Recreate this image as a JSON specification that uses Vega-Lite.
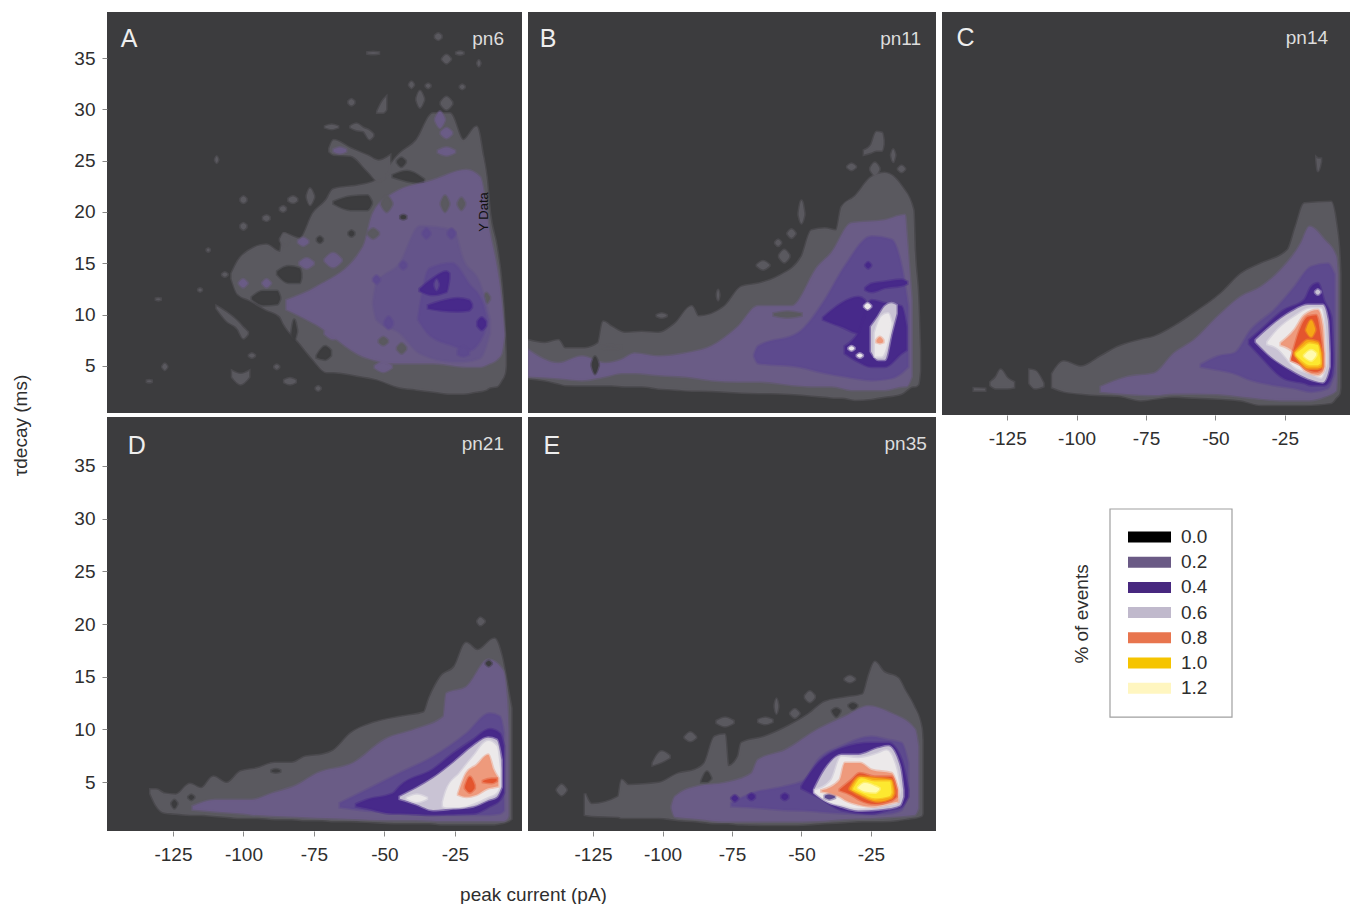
{"$schema":"https://vega.github.io/schema/vega-lite/v6.json","background":"white","padding":{"left":11,"top":12,"right":0,"bottom":0},"autosize":{"type":"pad"},"columns":3,"bounds":"flush","align":"each","spacing":{"column":6,"row":2},"resolve":{"scale":{"color":"independent","stroke":"independent"}},
"config":{"font":"Liberation Sans","view":{"fill":"#3c3c3e","stroke":null},"axis":{"grid":false,"domain":false,"tickColor":"#888888","tickSize":5,"labelFontSize":19,"labelColor":"#2e2e2e","labelFont":"Liberation Sans","titleFont":"Liberation Sans","titleFontSize":19,"titleFontWeight":"normal","titleColor":"#2e2e2e","labelOverlap":false}},
"datasets":{
"A":[
{"b":"m","l":1,"x":-104.2,"y":13.5,"y2":14},{"b":"m","l":1,"x":-102,"y":12,"y2":15.2},{"b":"m","l":1,"x":-97.7,"y":11.4,"y2":16.3},{"b":"m","l":1,"x":-92,"y":10.5,"y2":16.8},{"b":"m","l":1,"x":-87,"y":9.8,"y2":16.1},{"b":"m","l":1,"x":-85.9,"y":9.2,"y2":17.9},{"b":"m","l":1,"x":-80,"y":7.2,"y2":17.4},{"b":"m","l":1,"x":-75.2,"y":5.6,"y2":19.9},{"b":"m","l":1,"x":-70.5,"y":4.4,"y2":21.2},{"b":"m","l":1,"x":-68.2,"y":4.4,"y2":22.2},{"b":"m","l":1,"x":-58.7,"y":4,"y2":22.6},{"b":"m","l":1,"x":-52.8,"y":3.7,"y2":23.1},{"b":"m","l":1,"x":-44.5,"y":2.9,"y2":25.7},{"b":"m","l":1,"x":-38.6,"y":2.7,"y2":27},{"b":"m","l":1,"x":-32.7,"y":2.5,"y2":29.6},{"b":"m","l":1,"x":-26.8,"y":2.3,"y2":29.6},{"b":"m","l":1,"x":-22,"y":2.3,"y2":27},{"b":"m","l":1,"x":-17.3,"y":2.5,"y2":28.3},{"b":"m","l":1,"x":-15,"y":2.6,"y2":25.4},{"b":"m","l":1,"x":-13.8,"y":2.7,"y2":23.4},{"b":"m","l":1,"x":-12.6,"y":2.9,"y2":19.9},{"b":"m","l":1,"x":-10.2,"y":3,"y2":16.6},{"b":"m","l":1,"x":-8.5,"y":3.6,"y2":13},{"b":"m","l":1,"x":-7.3,"y":4.3,"y2":8.2},{"b":"m","l":1,"x":-7,"y":5,"y2":6},
{"b":"u","l":1,"x":-69.5,"y":25.9,"y2":26.2},{"b":"u","l":1,"x":-68,"y":25.6,"y2":27},{"b":"u","l":1,"x":-62,"y":25.5,"y2":26.2},{"b":"u","l":1,"x":-56,"y":24,"y2":25.5},{"b":"u","l":1,"x":-52,"y":23,"y2":25},{"b":"u","l":1,"x":-48,"y":24,"y2":25.5},
{"b":"s1","l":1,"x":-77.5,"y":21.4,"y2":21.6},{"b":"s1","l":1,"x":-76.4,"y":20.7,"y2":22.3},{"b":"s1","l":1,"x":-75,"y":21.4,"y2":21.6},
{"b":"s2","l":1,"x":-101,"y":21.1,"y2":21.3},{"b":"s2","l":1,"x":-100,"y":20.9,"y2":21.5},{"b":"s2","l":1,"x":-99,"y":21.1,"y2":21.3},
{"b":"s3","l":1,"x":-87,"y":17.2,"y2":17.4},{"b":"s3","l":1,"x":-85.3,"y":16.7,"y2":17.9},{"b":"s3","l":1,"x":-83.8,"y":17.2,"y2":17.4},
{"b":"s4","l":1,"x":-84,"y":21.1,"y2":21.3},{"b":"s4","l":1,"x":-82.4,"y":20.9,"y2":21.5},{"b":"s4","l":1,"x":-81,"y":21.1,"y2":21.3},
{"b":"s5","l":1,"x":-87,"y":20.2,"y2":20.4},{"b":"s5","l":1,"x":-85.9,"y":20.05,"y2":20.55},{"b":"s5","l":1,"x":-85,"y":20.2,"y2":20.4},
{"b":"s6","l":1,"x":-93,"y":19.3,"y2":19.5},{"b":"s6","l":1,"x":-91.8,"y":19.15,"y2":19.65},{"b":"s6","l":1,"x":-90.8,"y":19.3,"y2":19.5},
{"b":"s7","l":1,"x":-101,"y":18.5,"y2":18.7},{"b":"s7","l":1,"x":-100,"y":18.3,"y2":18.9},{"b":"s7","l":1,"x":-99,"y":18.5,"y2":18.7},
{"b":"s8","l":1,"x":-107.5,"y":13.85,"y2":13.95},{"b":"s8","l":1,"x":-106.6,"y":13.7,"y2":14.1},{"b":"s8","l":1,"x":-105.7,"y":13.85,"y2":13.95},
{"b":"s9","l":1,"x":-116,"y":12.35,"y2":12.45},{"b":"s9","l":1,"x":-115.4,"y":12.25,"y2":12.55},{"b":"s9","l":1,"x":-114.8,"y":12.35,"y2":12.45},
{"b":"s10","l":1,"x":-131,"y":11.45,"y2":11.55},{"b":"s10","l":1,"x":-130.2,"y":11.4,"y2":11.6},{"b":"s10","l":1,"x":-129.4,"y":11.45,"y2":11.55},
{"b":"s11","l":1,"x":-113,"y":16.25,"y2":16.35},{"b":"s11","l":1,"x":-112.5,"y":16.15,"y2":16.45},{"b":"s11","l":1,"x":-112,"y":16.25,"y2":16.35},
{"b":"s12","l":1,"x":-110,"y":25.05,"y2":25.15},{"b":"s12","l":1,"x":-109.5,"y":24.8,"y2":25.4},{"b":"s12","l":1,"x":-109,"y":25.05,"y2":25.15},
{"b":"s13","l":1,"x":-109.5,"y":10.6,"y2":10.8},{"b":"s13","l":1,"x":-106,"y":9.4,"y2":10.2},{"b":"s13","l":1,"x":-102,"y":8.6,"y2":9.3},{"b":"s13","l":1,"x":-100,"y":7.7,"y2":8.7},{"b":"s13","l":1,"x":-98.5,"y":8.1,"y2":8.3},
{"b":"s14","l":1,"x":-104,"y":3.9,"y2":4.5},{"b":"s14","l":1,"x":-101,"y":3.2,"y2":4.2},{"b":"s14","l":1,"x":-98,"y":3.9,"y2":4.5},
{"b":"s15","l":1,"x":-85.5,"y":3.4,"y2":3.6},{"b":"s15","l":1,"x":-83.5,"y":3.2,"y2":3.8},{"b":"s15","l":1,"x":-81.5,"y":3.4,"y2":3.6},
{"b":"s16","l":1,"x":-74.3,"y":2.75,"y2":2.85},{"b":"s16","l":1,"x":-73.5,"y":2.6,"y2":3},{"b":"s16","l":1,"x":-72.7,"y":2.75,"y2":2.85},
{"b":"s17","l":1,"x":-98,"y":5.95,"y2":6.05},{"b":"s17","l":1,"x":-97,"y":5.8,"y2":6.2},{"b":"s17","l":1,"x":-96,"y":5.95,"y2":6.05},
{"b":"s18","l":1,"x":-89,"y":4.85,"y2":4.95},{"b":"s18","l":1,"x":-88.2,"y":4.7,"y2":5.1},{"b":"s18","l":1,"x":-87.4,"y":4.85,"y2":4.95},
{"b":"s19","l":1,"x":-128.7,"y":4.85,"y2":4.95},{"b":"s19","l":1,"x":-127.9,"y":4.6,"y2":5.2},{"b":"s19","l":1,"x":-127.1,"y":4.85,"y2":4.95},
{"b":"s20","l":1,"x":-134.2,"y":3.45,"y2":3.55},{"b":"s20","l":1,"x":-133.4,"y":3.4,"y2":3.6},{"b":"s20","l":1,"x":-132.6,"y":3.45,"y2":3.55},
{"b":"t1","l":1,"x":-38.6,"y":30.9,"y2":31.1},{"b":"t1","l":1,"x":-37.4,"y":30.2,"y2":31.8},{"b":"t1","l":1,"x":-36,"y":30.9,"y2":31.1},
{"b":"t2","l":1,"x":-30,"y":30.5,"y2":30.7},{"b":"t2","l":1,"x":-28,"y":30,"y2":31.2},{"b":"t2","l":1,"x":-26,"y":30.5,"y2":30.7},
{"b":"t3","l":1,"x":-52.5,"y":29.7,"y2":29.8},{"b":"t3","l":1,"x":-50.4,"y":29.7,"y2":30.9},{"b":"t3","l":1,"x":-49.4,"y":30,"y2":31.2},
{"b":"t4","l":1,"x":-62.7,"y":30.6,"y2":30.8},{"b":"t4","l":1,"x":-61.7,"y":30.4,"y2":31},{"b":"t4","l":1,"x":-60.7,"y":30.6,"y2":30.8},
{"b":"t5","l":1,"x":-32,"y":37,"y2":37.2},{"b":"t5","l":1,"x":-30.9,"y":36.8,"y2":37.4},{"b":"t5","l":1,"x":-29.8,"y":37,"y2":37.2},
{"b":"t6","l":1,"x":-56,"y":35.45,"y2":35.55},{"b":"t6","l":1,"x":-54,"y":35.4,"y2":35.6},{"b":"t6","l":1,"x":-52,"y":35.45,"y2":35.55},
{"b":"t7","l":1,"x":-29.5,"y":34.85,"y2":34.95},{"b":"t7","l":1,"x":-28,"y":34.5,"y2":35.3},{"b":"t7","l":1,"x":-26.5,"y":34.85,"y2":34.95},
{"b":"t8","l":1,"x":-17,"y":34.45,"y2":34.55},{"b":"t8","l":1,"x":-16.5,"y":34.2,"y2":34.8},{"b":"t8","l":1,"x":-16,"y":34.45,"y2":34.55},
{"b":"t9","l":1,"x":-24.5,"y":35.45,"y2":35.55},{"b":"t9","l":1,"x":-23.2,"y":35.35,"y2":35.65},{"b":"t9","l":1,"x":-22,"y":35.45,"y2":35.55},
{"b":"t10","l":1,"x":-41.2,"y":32.35,"y2":32.45},{"b":"t10","l":1,"x":-40.4,"y":32.1,"y2":32.7},{"b":"t10","l":1,"x":-39.6,"y":32.35,"y2":32.45},
{"b":"t11","l":1,"x":-35.3,"y":32.25,"y2":32.35},{"b":"t11","l":1,"x":-34.5,"y":32.1,"y2":32.5},{"b":"t11","l":1,"x":-33.7,"y":32.25,"y2":32.35},
{"b":"t12","l":1,"x":-23.2,"y":32.15,"y2":32.25},{"b":"t12","l":1,"x":-22.4,"y":32,"y2":32.4},{"b":"t12","l":1,"x":-21.6,"y":32.15,"y2":32.25},
{"b":"t13","l":1,"x":-71,"y":28.25,"y2":28.35},{"b":"t13","l":1,"x":-68.7,"y":28.1,"y2":28.5},{"b":"t13","l":1,"x":-66.5,"y":28.25,"y2":28.35},
{"b":"t14","l":1,"x":-62,"y":28.25,"y2":28.35},{"b":"t14","l":1,"x":-59.9,"y":28,"y2":28.6},{"b":"t14","l":1,"x":-57.5,"y":27.9,"y2":28.2},{"b":"t14","l":1,"x":-55.2,"y":27.1,"y2":27.9},{"b":"t14","l":1,"x":-54,"y":27.4,"y2":27.6},
{"b":"h1","l":0,"x":-97,"y":11.5,"y2":11.7},{"b":"h1","l":0,"x":-93,"y":10.9,"y2":12.3},{"b":"h1","l":0,"x":-88,"y":11,"y2":12.3},{"b":"h1","l":0,"x":-87,"y":11.5,"y2":11.7},
{"b":"h2","l":0,"x":-88,"y":13.9,"y2":14.2},{"b":"h2","l":0,"x":-84,"y":13.1,"y2":14.7},{"b":"h2","l":0,"x":-80,"y":13.1,"y2":14.5},{"b":"h2","l":0,"x":-79.5,"y":13.6,"y2":14},
{"b":"h3","l":0,"x":-68,"y":20.8,"y2":21},{"b":"h3","l":0,"x":-62,"y":20.2,"y2":21.5},{"b":"h3","l":0,"x":-56,"y":20.2,"y2":21.6},{"b":"h3","l":0,"x":-54.5,"y":20.8,"y2":21},
{"b":"h4","l":0,"x":-74,"y":5.8,"y2":6},{"b":"h4","l":0,"x":-71,"y":5.6,"y2":6.9},{"b":"h4","l":0,"x":-69,"y":6,"y2":6.5},
{"b":"h5","l":0,"x":-83,"y":8,"y2":8.2},{"b":"h5","l":0,"x":-82,"y":7.5,"y2":9.5},{"b":"h5","l":0,"x":-81,"y":8.3,"y2":8.5},
{"b":"h6","l":0,"x":-47,"y":23.4,"y2":23.6},{"b":"h6","l":0,"x":-42,"y":23,"y2":24},{"b":"h6","l":0,"x":-36,"y":22.8,"y2":23.2},
{"b":"h7","l":0,"x":-45.5,"y":24.8,"y2":25},{"b":"h7","l":0,"x":-44,"y":24.4,"y2":25.3},{"b":"h7","l":0,"x":-42.5,"y":24.8,"y2":25},
{"b":"h8","l":0,"x":-62.7,"y":17.8,"y2":18},{"b":"h8","l":0,"x":-61.7,"y":17.6,"y2":18.2},{"b":"h8","l":0,"x":-60.7,"y":17.8,"y2":18},
{"b":"h9","l":0,"x":-73.9,"y":17.2,"y2":17.4},{"b":"h9","l":0,"x":-72.9,"y":17,"y2":17.6},{"b":"h9","l":0,"x":-71.9,"y":17.2,"y2":17.4},
{"b":"n1","l":2,"x":-101.6,"y":13,"y2":13.1},{"b":"n1","l":2,"x":-100.1,"y":12.65,"y2":13.45},{"b":"n1","l":2,"x":-98.6,"y":13,"y2":13.1},
{"b":"n2","l":2,"x":-93.3,"y":13,"y2":13.1},{"b":"n2","l":2,"x":-91.8,"y":12.65,"y2":13.45},{"b":"n2","l":2,"x":-90.3,"y":13,"y2":13.1},
{"b":"n3","l":2,"x":-80.6,"y":17,"y2":17.2},{"b":"n3","l":2,"x":-78.8,"y":16.7,"y2":17.5},{"b":"n3","l":2,"x":-77,"y":17,"y2":17.2},
{"b":"n4","l":2,"x":-68,"y":25.9,"y2":26.1},{"b":"n4","l":2,"x":-65.8,"y":25.7,"y2":26.3},{"b":"n4","l":2,"x":-63.6,"y":25.9,"y2":26.1},
{"b":"n5","l":2,"x":-31,"y":25.8,"y2":26},{"b":"n5","l":2,"x":-28,"y":25.5,"y2":26.3},{"b":"n5","l":2,"x":-25,"y":25.8,"y2":26},
{"b":"n6","l":2,"x":-32,"y":28.9,"y2":29.1},{"b":"n6","l":2,"x":-30.3,"y":28.2,"y2":29.8},{"b":"n6","l":2,"x":-28.6,"y":28.9,"y2":29.1},
{"b":"n7","l":2,"x":-30,"y":27.6,"y2":27.8},{"b":"n7","l":2,"x":-28,"y":27.2,"y2":28.2},{"b":"n7","l":2,"x":-26,"y":27.6,"y2":27.8},
{"b":"n8","l":2,"x":-71.2,"y":8.1,"y2":8.3},{"b":"n8","l":2,"x":-68.2,"y":7.6,"y2":8.8},{"b":"n8","l":2,"x":-65.2,"y":8.1,"y2":8.3},
{"b":"n9","l":2,"x":-53.4,"y":4.8,"y2":5},{"b":"n9","l":2,"x":-50.4,"y":4.4,"y2":5.4},{"b":"n9","l":2,"x":-47.4,"y":4.8,"y2":5},
{"b":"n10","l":2,"x":-71.2,"y":15.2,"y2":15.4},{"b":"n10","l":2,"x":-68.2,"y":14.6,"y2":16},{"b":"n10","l":2,"x":-65.2,"y":15.2,"y2":15.4},
{"b":"n11","l":2,"x":-80.1,"y":14.9,"y2":15.1},{"b":"n11","l":2,"x":-77.6,"y":14.5,"y2":15.5},{"b":"n11","l":2,"x":-75.1,"y":14.9,"y2":15.1},
{"b":"p","l":2,"x":-84.7,"y":10.5,"y2":11.4},{"b":"p","l":2,"x":-74,"y":9,"y2":12.7},{"b":"p","l":2,"x":-57.5,"y":5.9,"y2":16.6},{"b":"p","l":2,"x":-54,"y":5.6,"y2":19.9},{"b":"p","l":2,"x":-46.9,"y":5.25,"y2":21.8},{"b":"p","l":2,"x":-32.7,"y":5.25,"y2":23.1},{"b":"p","l":2,"x":-20.9,"y":4.9,"y2":24.1},{"b":"p","l":2,"x":-16.1,"y":4.9,"y2":23.4},{"b":"p","l":2,"x":-12.6,"y":5.25,"y2":17.9},{"b":"p","l":2,"x":-10.2,"y":5.6,"y2":14.7},{"b":"p","l":2,"x":-8.5,"y":6.2,"y2":11.4},{"b":"p","l":2,"x":-7.5,"y":7.9,"y2":8.2},
{"b":"k1","l":1,"x":-51.2,"y":20.7,"y2":20.9},{"b":"k1","l":1,"x":-49.2,"y":20,"y2":21.6},{"b":"k1","l":1,"x":-47.2,"y":20.7,"y2":20.9},
{"b":"k2","l":1,"x":-30,"y":20.7,"y2":20.9},{"b":"k2","l":1,"x":-28.5,"y":20,"y2":21.6},{"b":"k2","l":1,"x":-27,"y":20.7,"y2":20.9},
{"b":"k3","l":1,"x":-24,"y":20.7,"y2":20.9},{"b":"k3","l":1,"x":-22.7,"y":20.2,"y2":21.4},{"b":"k3","l":1,"x":-21.4,"y":20.7,"y2":20.9},
{"b":"k4","l":1,"x":-56,"y":17.8,"y2":18},{"b":"k4","l":1,"x":-54,"y":17.4,"y2":18.4},{"b":"k4","l":1,"x":-52,"y":17.8,"y2":18},
{"b":"k5","l":1,"x":-39,"y":9.1,"y2":9.3},{"b":"k5","l":1,"x":-37.4,"y":8.8,"y2":9.6},{"b":"k5","l":1,"x":-35.8,"y":9.1,"y2":9.3},
{"b":"k6","l":1,"x":-52,"y":7.3,"y2":7.5},{"b":"k6","l":1,"x":-50.4,"y":7,"y2":7.8},{"b":"k6","l":1,"x":-48.8,"y":7.3,"y2":7.5},
{"b":"k7","l":1,"x":-15,"y":11.5,"y2":11.7},{"b":"k7","l":1,"x":-13.8,"y":11.1,"y2":12.1},{"b":"k7","l":1,"x":-12.6,"y":11.5,"y2":11.7},
{"b":"k8","l":1,"x":-45.5,"y":6.6,"y2":6.8},{"b":"k8","l":1,"x":-43.9,"y":6.2,"y2":7.2},{"b":"k8","l":1,"x":-42.3,"y":6.6,"y2":6.8},
{"b":"k9","l":0,"x":-44.3,"y":19.4,"y2":19.6},{"b":"k9","l":0,"x":-43.3,"y":19.3,"y2":19.7},{"b":"k9","l":0,"x":-42.3,"y":19.4,"y2":19.6},
{"b":"q","l":12,"x":-54,"y":11,"y2":11.2},{"b":"q","l":12,"x":-52.8,"y":9.5,"y2":13},{"b":"q","l":12,"x":-44.5,"y":8.2,"y2":15},{"b":"q","l":12,"x":-37.4,"y":6.2,"y2":18.6},{"b":"q","l":12,"x":-25.6,"y":5.4,"y2":18.2},{"b":"q","l":12,"x":-22,"y":5.4,"y2":15.3},{"b":"q","l":12,"x":-16.1,"y":5.75,"y2":13},{"b":"q","l":12,"x":-12.6,"y":8.2,"y2":9.5},
{"b":"v1","l":3,"x":-38,"y":9.5,"y2":9.7},{"b":"v1","l":3,"x":-34,"y":8,"y2":14.5},{"b":"v1","l":3,"x":-26,"y":7,"y2":15},{"b":"v1","l":3,"x":-20,"y":6.5,"y2":13},{"b":"v1","l":3,"x":-15,"y":8,"y2":11},{"b":"v1","l":3,"x":-13.5,"y":9.2,"y2":9.4},
{"b":"d1","l":4,"x":-37.5,"y":12.3,"y2":12.5},{"b":"d1","l":4,"x":-33,"y":11.9,"y2":13.5},{"b":"d1","l":4,"x":-28,"y":12.2,"y2":14.2},{"b":"d1","l":4,"x":-27,"y":13.5,"y2":14},
{"b":"d2","l":4,"x":-34.5,"y":10.6,"y2":10.9},{"b":"d2","l":4,"x":-30,"y":10.4,"y2":11.3},{"b":"d2","l":4,"x":-24,"y":10.3,"y2":11.6},{"b":"d2","l":4,"x":-20,"y":10.4,"y2":11.4},{"b":"d2","l":4,"x":-19,"y":10.7,"y2":11},
{"b":"d3","l":4,"x":-17,"y":8.9,"y2":9.3},{"b":"d3","l":4,"x":-15.5,"y":8.5,"y2":9.7},{"b":"d3","l":4,"x":-14,"y":8.9,"y2":9.3},
{"b":"d4","l":3,"x":-50,"y":9,"y2":9.3},{"b":"d4","l":3,"x":-48.5,"y":8.6,"y2":9.8},{"b":"d4","l":3,"x":-47,"y":9,"y2":9.3},
{"b":"d5","l":3,"x":-24,"y":6.1,"y2":6.5},{"b":"d5","l":3,"x":-22,"y":5.9,"y2":6.9},{"b":"d5","l":3,"x":-20,"y":6.1,"y2":6.5},
{"b":"d6","l":3,"x":-36.5,"y":17.8,"y2":18},{"b":"d6","l":3,"x":-35.1,"y":17.4,"y2":18.4},{"b":"d6","l":3,"x":-33.7,"y":17.8,"y2":18},
{"b":"d7","l":3,"x":-27.6,"y":17.8,"y2":18},{"b":"d7","l":3,"x":-26.2,"y":17.4,"y2":18.4},{"b":"d7","l":3,"x":-24.8,"y":17.8,"y2":18},
{"b":"d8","l":3,"x":-44.5,"y":14.7,"y2":14.9},{"b":"d8","l":3,"x":-43.3,"y":14.4,"y2":15.2},{"b":"d8","l":3,"x":-42.1,"y":14.7,"y2":14.9},
{"b":"d9","l":3,"x":-54,"y":13.3,"y2":13.5},{"b":"d9","l":3,"x":-52.8,"y":13,"y2":13.8},{"b":"d9","l":3,"x":-51.6,"y":13.3,"y2":13.5},
{"b":"e1","l":3,"x":-32.2,"y":12.8,"y2":13},{"b":"e1","l":3,"x":-31.5,"y":12.4,"y2":13.4},{"b":"e1","l":3,"x":-30.8,"y":12.8,"y2":13}
],
"B":[
{"b":"m","l":1,"x":-148.4,"y":3.8,"y2":7.5},{"b":"m","l":1,"x":-142.3,"y":3.6,"y2":7.2},{"b":"m","l":1,"x":-137.5,"y":3.3,"y2":7.5},{"b":"m","l":1,"x":-135.1,"y":3.14,"y2":6.7},{"b":"m","l":1,"x":-128,"y":3.1,"y2":6.7},{"b":"m","l":1,"x":-123.1,"y":3.1,"y2":7.2},{"b":"m","l":1,"x":-121.3,"y":3.1,"y2":9.3},{"b":"m","l":1,"x":-118.3,"y":3.1,"y2":8.8},{"b":"m","l":1,"x":-113.5,"y":3,"y2":8.2},{"b":"m","l":1,"x":-107.5,"y":3,"y2":8.3},{"b":"m","l":1,"x":-101.5,"y":2.8,"y2":8.2},{"b":"m","l":1,"x":-95.5,"y":2.7,"y2":9.1},{"b":"m","l":1,"x":-89.5,"y":2.6,"y2":10.8},{"b":"m","l":1,"x":-87.1,"y":2.6,"y2":9.8},{"b":"m","l":1,"x":-77.6,"y":2.5,"y2":10.8},{"b":"m","l":1,"x":-71.6,"y":2.4,"y2":12.7},{"b":"m","l":1,"x":-65.6,"y":2.35,"y2":13},{"b":"m","l":1,"x":-58.4,"y":2.33,"y2":13.7},{"b":"m","l":1,"x":-50,"y":2.2,"y2":15.6},{"b":"m","l":1,"x":-46.4,"y":2.1,"y2":18.2},{"b":"m","l":1,"x":-41.6,"y":2,"y2":18.4},{"b":"m","l":1,"x":-37.5,"y":1.9,"y2":18.2},{"b":"m","l":1,"x":-35.5,"y":1.9,"y2":20.5},{"b":"m","l":1,"x":-30.8,"y":1.7,"y2":21.5},{"b":"m","l":1,"x":-24.8,"y":1.8,"y2":23.4},{"b":"m","l":1,"x":-20,"y":2,"y2":23.8},{"b":"m","l":1,"x":-14,"y":2.3,"y2":22.5},{"b":"m","l":1,"x":-9.8,"y":3,"y2":20.2},{"b":"m","l":1,"x":-9.2,"y":3,"y2":16},{"b":"m","l":1,"x":-8,"y":3.2,"y2":11.4},{"b":"m","l":1,"x":-7.4,"y":4.5,"y2":6.5},
{"b":"s1","l":1,"x":-27.5,"y":25.6,"y2":26},{"b":"s1","l":1,"x":-25,"y":25.8,"y2":26.5},{"b":"s1","l":1,"x":-23,"y":26,"y2":27.8},{"b":"s1","l":1,"x":-21,"y":26,"y2":27.7},{"b":"s1","l":1,"x":-20.5,"y":26.6,"y2":27},
{"b":"s2","l":1,"x":-17.7,"y":25.5,"y2":25.6},{"b":"s2","l":1,"x":-17,"y":24.9,"y2":26.1},{"b":"s2","l":1,"x":-16.3,"y":25.5,"y2":25.6},
{"b":"s3","l":1,"x":-51,"y":19.7,"y2":19.9},{"b":"s3","l":1,"x":-50,"y":18.9,"y2":21.1},{"b":"s3","l":1,"x":-49,"y":19.7,"y2":19.9},
{"b":"s4","l":1,"x":-55,"y":17.85,"y2":17.95},{"b":"s4","l":1,"x":-53.6,"y":17.5,"y2":18.3},{"b":"s4","l":1,"x":-52.2,"y":17.85,"y2":17.95},
{"b":"s5","l":1,"x":-58,"y":15.6,"y2":15.8},{"b":"s5","l":1,"x":-56.2,"y":15.1,"y2":16.3},{"b":"s5","l":1,"x":-54.4,"y":15.6,"y2":15.8},
{"b":"s6","l":1,"x":-66,"y":14.75,"y2":14.85},{"b":"s6","l":1,"x":-63.8,"y":14.4,"y2":15.2},{"b":"s6","l":1,"x":-61.6,"y":14.75,"y2":14.85},
{"b":"s7","l":1,"x":-59.4,"y":16.95,"y2":17.05},{"b":"s7","l":1,"x":-58.4,"y":16.7,"y2":17.3},{"b":"s7","l":1,"x":-57.4,"y":16.95,"y2":17.05},
{"b":"s8","l":1,"x":-33.5,"y":24.35,"y2":24.45},{"b":"s8","l":1,"x":-32,"y":24.1,"y2":24.7},{"b":"s8","l":1,"x":-30.5,"y":24.35,"y2":24.45},
{"b":"s9","l":1,"x":-15.2,"y":24.15,"y2":24.25},{"b":"s9","l":1,"x":-14,"y":23.9,"y2":24.5},{"b":"s9","l":1,"x":-12.8,"y":24.15,"y2":24.25},
{"b":"s10","l":1,"x":-25.2,"y":24.1,"y2":24.3},{"b":"s10","l":1,"x":-23.6,"y":23.6,"y2":24.8},{"b":"s10","l":1,"x":-22,"y":24.1,"y2":24.3},
{"b":"s11","l":1,"x":-80.4,"y":11.8,"y2":12},{"b":"s11","l":1,"x":-80,"y":11.4,"y2":12.4},{"b":"s11","l":1,"x":-79.6,"y":11.8,"y2":12},
{"b":"s12","l":1,"x":-102,"y":9.85,"y2":9.95},{"b":"s12","l":1,"x":-100.3,"y":9.7,"y2":10.1},{"b":"s12","l":1,"x":-98.6,"y":9.85,"y2":9.95},
{"b":"p","l":2,"x":-148.3,"y":3.95,"y2":6.55},{"b":"p","l":2,"x":-137.5,"y":3.8,"y2":5.25},{"b":"p","l":2,"x":-129,"y":3.6,"y2":5.9},{"b":"p","l":2,"x":-120.7,"y":3.95,"y2":5.25},{"b":"p","l":2,"x":-114.7,"y":4.3,"y2":5.6},{"b":"p","l":2,"x":-110,"y":4.3,"y2":6.2},{"b":"p","l":2,"x":-101.5,"y":4.1,"y2":5.9},{"b":"p","l":2,"x":-92,"y":3.95,"y2":6.2},{"b":"p","l":2,"x":-82.4,"y":3.6,"y2":6.9},{"b":"p","l":2,"x":-72.8,"y":3.47,"y2":8.8},{"b":"p","l":2,"x":-65.6,"y":3.47,"y2":10.8},{"b":"p","l":2,"x":-53.6,"y":3.14,"y2":10.8},{"b":"p","l":2,"x":-44,"y":3,"y2":14.7},{"b":"p","l":2,"x":-39.2,"y":3,"y2":16},{"b":"p","l":2,"x":-32,"y":2.65,"y2":18.9},{"b":"p","l":2,"x":-20,"y":2.65,"y2":19.2},{"b":"p","l":2,"x":-12.8,"y":3,"y2":19.7},{"b":"p","l":2,"x":-12.2,"y":3,"y2":17.9},{"b":"p","l":2,"x":-10.4,"y":3.95,"y2":11.4},
{"b":"h1","l":0,"x":-125.5,"y":5,"y2":5.2},{"b":"h1","l":0,"x":-124.3,"y":4.2,"y2":5.9},{"b":"h1","l":0,"x":-123,"y":5,"y2":5.2},
{"b":"h2","l":1,"x":-122,"y":6.7,"y2":6.9},{"b":"h2","l":1,"x":-119,"y":6.6,"y2":7},{"b":"h2","l":1,"x":-115,"y":6.7,"y2":6.9},
{"b":"h3","l":1,"x":-60,"y":9.9,"y2":10.1},{"b":"h3","l":1,"x":-55,"y":9.7,"y2":10.3},{"b":"h3","l":1,"x":-50,"y":9.9,"y2":10.1},
{"b":"q","l":3,"x":-67,"y":5.9,"y2":6.1},{"b":"q","l":3,"x":-65.6,"y":5.25,"y2":6.9},{"b":"q","l":3,"x":-51.2,"y":4.9,"y2":8.2},{"b":"q","l":3,"x":-41.6,"y":4.3,"y2":11.4},{"b":"q","l":3,"x":-34.4,"y":3.95,"y2":14.7},{"b":"q","l":3,"x":-24.8,"y":3.6,"y2":17.6},{"b":"q","l":3,"x":-17.6,"y":3.8,"y2":17.3},{"b":"q","l":3,"x":-14,"y":4.3,"y2":14.7},{"b":"q","l":3,"x":-11.6,"y":4.9,"y2":10.8},
{"b":"d1","l":4,"x":-42.2,"y":9.5,"y2":9.7},{"b":"d1","l":4,"x":-35.6,"y":8.8,"y2":11.1},{"b":"d1","l":4,"x":-29.6,"y":8.2,"y2":11.7},{"b":"d1","l":4,"x":-27.2,"y":8.2,"y2":11.4},{"b":"d1","l":4,"x":-26,"y":9.5,"y2":10},
{"b":"d2","l":4,"x":-34.4,"y":6.2,"y2":6.9},{"b":"d2","l":4,"x":-29.6,"y":5.4,"y2":8.2},{"b":"d2","l":4,"x":-24.8,"y":4.9,"y2":11.4},{"b":"d2","l":4,"x":-20,"y":4.9,"y2":11.1},{"b":"d2","l":4,"x":-14,"y":6.2,"y2":10.8},{"b":"d2","l":4,"x":-12.2,"y":6.55,"y2":8.8},
{"b":"d3","l":4,"x":-27,"y":12.4,"y2":12.6},{"b":"d3","l":4,"x":-24.8,"y":12.2,"y2":13},{"b":"d3","l":4,"x":-20,"y":12.6,"y2":13.2},{"b":"d3","l":4,"x":-14,"y":12.8,"y2":13.4},{"b":"d3","l":4,"x":-12,"y":13,"y2":13.2},
{"b":"d4","l":4,"x":-27,"y":14.75,"y2":14.85},{"b":"d4","l":4,"x":-26,"y":14.5,"y2":15.1},{"b":"d4","l":4,"x":-25,"y":14.75,"y2":14.85},
{"b":"w1","l":5,"x":-25,"y":6.4,"y2":8.8},{"b":"w1","l":5,"x":-22.4,"y":5.6,"y2":9.8},{"b":"w1","l":5,"x":-20,"y":5.6,"y2":10.8},{"b":"w1","l":5,"x":-17.6,"y":8.2,"y2":11.1},{"b":"w1","l":5,"x":-15.8,"y":10.1,"y2":10.9},
{"b":"w2","l":6,"x":-23.6,"y":5.9,"y2":8.2},{"b":"w2","l":6,"x":-21.2,"y":5.9,"y2":9.8},{"b":"w2","l":6,"x":-18.8,"y":7.5,"y2":10.1},{"b":"w2","l":6,"x":-17.6,"y":9,"y2":9.2},
{"b":"w3","l":7,"x":-23,"y":7.3,"y2":7.5},{"b":"w3","l":7,"x":-21.8,"y":7.2,"y2":7.8},{"b":"w3","l":7,"x":-20.6,"y":7.3,"y2":7.5},
{"b":"w4","l":6,"x":-27.4,"y":10.75,"y2":10.85},{"b":"w4","l":6,"x":-26.2,"y":10.5,"y2":11.1},{"b":"w4","l":6,"x":-25,"y":10.75,"y2":10.85},
{"b":"w5","l":6,"x":-33,"y":6.65,"y2":6.75},{"b":"w5","l":6,"x":-32,"y":6.5,"y2":6.9},{"b":"w5","l":6,"x":-31,"y":6.65,"y2":6.75},
{"b":"w6","l":6,"x":-30,"y":5.95,"y2":6.05},{"b":"w6","l":6,"x":-29,"y":5.8,"y2":6.2},{"b":"w6","l":6,"x":-28,"y":5.95,"y2":6.05}
],
"C":[
{"b":"m","l":1,"x":-108.8,"y":3,"y2":4.3},{"b":"m","l":1,"x":-104.6,"y":2.6,"y2":5.5},{"b":"m","l":1,"x":-98.6,"y":2.4,"y2":5},{"b":"m","l":1,"x":-91.3,"y":2.25,"y2":6},{"b":"m","l":1,"x":-85.3,"y":2.2,"y2":6.9},{"b":"m","l":1,"x":-76.9,"y":1.75,"y2":7.6},{"b":"m","l":1,"x":-72.1,"y":1.9,"y2":7.9},{"b":"m","l":1,"x":-64.9,"y":2.1,"y2":8.9},{"b":"m","l":1,"x":-57.6,"y":2,"y2":10.2},{"b":"m","l":1,"x":-48,"y":1.9,"y2":12.1},{"b":"m","l":1,"x":-40.8,"y":1.75,"y2":14},{"b":"m","l":1,"x":-33.6,"y":1.3,"y2":15},{"b":"m","l":1,"x":-24,"y":1.3,"y2":16.3},{"b":"m","l":1,"x":-21,"y":1.3,"y2":18.6},{"b":"m","l":1,"x":-17.9,"y":1.3,"y2":20.85},{"b":"m","l":1,"x":-8.3,"y":1.5,"y2":21},{"b":"m","l":1,"x":-6.5,"y":2,"y2":18.9},{"b":"m","l":1,"x":-5.3,"y":2.4,"y2":15.7},{"b":"m","l":1,"x":-5,"y":3,"y2":14},
{"b":"s1","l":1,"x":-131,"y":3.2,"y2":3.5},{"b":"s1","l":1,"x":-129,"y":2.9,"y2":4},{"b":"s1","l":1,"x":-127.4,"y":2.9,"y2":4.7},{"b":"s1","l":1,"x":-125,"y":2.9,"y2":3.9},{"b":"s1","l":1,"x":-122.6,"y":3,"y2":3.5},
{"b":"s2","l":1,"x":-117,"y":3.4,"y2":4.7},{"b":"s2","l":1,"x":-115,"y":2.9,"y2":4.6},{"b":"s2","l":1,"x":-112,"y":3.1,"y2":3.4},
{"b":"s3","l":1,"x":-137,"y":2.7,"y2":2.9},{"b":"s3","l":1,"x":-133,"y":2.7,"y2":2.85},
{"b":"s4","l":1,"x":-13.6,"y":25.1,"y2":25.3},{"b":"s4","l":1,"x":-13,"y":24,"y2":25.2},{"b":"s4","l":1,"x":-12,"y":24.9,"y2":25.2},
{"b":"p","l":2,"x":-91.3,"y":2.57,"y2":3.05},{"b":"p","l":2,"x":-81.7,"y":2.34,"y2":4},{"b":"p","l":2,"x":-72.1,"y":2.24,"y2":4.35},{"b":"p","l":2,"x":-64.9,"y":2.4,"y2":6.3},{"b":"p","l":2,"x":-57.6,"y":2.4,"y2":7.6},{"b":"p","l":2,"x":-49.2,"y":2.34,"y2":9.85},{"b":"p","l":2,"x":-40.8,"y":2.1,"y2":11.8},{"b":"p","l":2,"x":-33.6,"y":1.9,"y2":12.75},{"b":"p","l":2,"x":-26.4,"y":1.75,"y2":14.4},{"b":"p","l":2,"x":-19.1,"y":1.75,"y2":17},{"b":"p","l":2,"x":-16.1,"y":1.75,"y2":18.6},{"b":"p","l":2,"x":-10.7,"y":2.1,"y2":17.3},{"b":"p","l":2,"x":-6.5,"y":2.7,"y2":15.7},{"b":"p","l":2,"x":-5.9,"y":7.6,"y2":14},
{"b":"q","l":3,"x":-55.2,"y":5,"y2":5.2},{"b":"q","l":3,"x":-49.2,"y":4.7,"y2":6},{"b":"q","l":3,"x":-43.2,"y":4.35,"y2":6.3},{"b":"q","l":3,"x":-37.2,"y":3.7,"y2":8.56},{"b":"q","l":3,"x":-28.8,"y":3.2,"y2":10.5},{"b":"q","l":3,"x":-21.5,"y":2.9,"y2":12.75},{"b":"q","l":3,"x":-15.5,"y":2.57,"y2":14.7},{"b":"q","l":3,"x":-9.5,"y":2.9,"y2":15},{"b":"q","l":3,"x":-7.1,"y":4.35,"y2":14},
{"b":"d","l":4,"x":-37.8,"y":7.2,"y2":7.6},{"b":"d","l":4,"x":-33.6,"y":6,"y2":8.56},{"b":"d","l":4,"x":-25.2,"y":3.86,"y2":10.5},{"b":"d","l":4,"x":-17.9,"y":3.4,"y2":11.5},{"b":"d","l":4,"x":-15.5,"y":3.2,"y2":12.75},{"b":"d","l":4,"x":-13.1,"y":3.2,"y2":13.1},{"b":"d","l":4,"x":-10.7,"y":3.2,"y2":11.3},{"b":"d","l":4,"x":-8.3,"y":4,"y2":9.85},{"b":"d","l":4,"x":-7.6,"y":5.3,"y2":6.3},
{"b":"e","l":5,"x":-35.4,"y":7.4,"y2":7.6},{"b":"e","l":5,"x":-30,"y":6,"y2":8.9},{"b":"e","l":5,"x":-22.7,"y":4.7,"y2":10.3},{"b":"e","l":5,"x":-16.7,"y":3.86,"y2":11},{"b":"e","l":5,"x":-11.3,"y":3.5,"y2":11},{"b":"e","l":5,"x":-9.5,"y":4.35,"y2":9.5},{"b":"e","l":5,"x":-8.9,"y":5,"y2":6.3},
{"b":"e2","l":5,"x":-14,"y":12.2,"y2":12.3},{"b":"e2","l":5,"x":-13.1,"y":12,"y2":12.5},{"b":"e2","l":5,"x":-12.2,"y":12.2,"y2":12.3},
{"b":"f","l":6,"x":-31.2,"y":7.2,"y2":7.4},{"b":"f","l":6,"x":-27.6,"y":6.8,"y2":8.56},{"b":"f","l":6,"x":-21.5,"y":5,"y2":9.85},{"b":"f","l":6,"x":-15.5,"y":4.35,"y2":10.66},{"b":"f","l":6,"x":-11.9,"y":3.96,"y2":10.66},{"b":"f","l":6,"x":-10.7,"y":4.67,"y2":8.9},{"b":"f","l":6,"x":-10.1,"y":5.3,"y2":6.3},
{"b":"g","l":7,"x":-26.4,"y":7.1,"y2":7.3},{"b":"g","l":7,"x":-21.5,"y":6.3,"y2":8.56},{"b":"g","l":7,"x":-17.9,"y":4.67,"y2":10},{"b":"g","l":7,"x":-13.1,"y":4.2,"y2":10.5},{"b":"g","l":7,"x":-11.3,"y":4.5,"y2":8.9},{"b":"g","l":7,"x":-10.7,"y":5,"y2":6.3},
{"b":"r","l":8,"x":-22.7,"y":5.6,"y2":5.8},{"b":"r","l":8,"x":-19.1,"y":5.15,"y2":8.9},{"b":"r","l":8,"x":-16.7,"y":4.67,"y2":9.85},{"b":"r","l":8,"x":-13.7,"y":4.5,"y2":10},{"b":"r","l":8,"x":-11.9,"y":4.67,"y2":7.6},{"b":"r","l":8,"x":-11.3,"y":5,"y2":6.3},
{"b":"o1","l":9,"x":-17.3,"y":8.5,"y2":8.6},{"b":"o1","l":9,"x":-15.5,"y":7.9,"y2":9.5},{"b":"o1","l":9,"x":-14.1,"y":8.5,"y2":8.7},
{"b":"o2","l":9,"x":-21.5,"y":6.2,"y2":6.4},{"b":"o2","l":9,"x":-19.1,"y":5.3,"y2":7.1},{"b":"o2","l":9,"x":-16.7,"y":4.83,"y2":7.6},{"b":"o2","l":9,"x":-13.1,"y":4.83,"y2":7.4},{"b":"o2","l":9,"x":-11.7,"y":5,"y2":6.3},
{"b":"y","l":10,"x":-20.9,"y":6.1,"y2":6.3},{"b":"y","l":10,"x":-18.5,"y":5.5,"y2":6.8},{"b":"y","l":10,"x":-16.1,"y":5.15,"y2":7.25},{"b":"y","l":10,"x":-13.1,"y":5.15,"y2":7.1},{"b":"y","l":10,"x":-12.2,"y":5.3,"y2":5.6},
{"b":"z","l":11,"x":-18,"y":6,"y2":6.1},{"b":"z","l":11,"x":-15.5,"y":5.6,"y2":6.6},{"b":"z","l":11,"x":-13.7,"y":6.1,"y2":6.3}
],
"D":[
{"b":"m","l":1,"x":-133,"y":3.9,"y2":4.3},{"b":"m","l":1,"x":-131,"y":2.8,"y2":4.3},{"b":"m","l":1,"x":-128,"y":2.1,"y2":3.9},{"b":"m","l":1,"x":-124,"y":2,"y2":3.8},{"b":"m","l":1,"x":-119,"y":1.9,"y2":4.8},{"b":"m","l":1,"x":-115,"y":1.9,"y2":4.4},{"b":"m","l":1,"x":-110.7,"y":1.8,"y2":5.5},{"b":"m","l":1,"x":-106,"y":1.7,"y2":4.9},{"b":"m","l":1,"x":-101,"y":1.6,"y2":6},{"b":"m","l":1,"x":-95,"y":1.6,"y2":6.3},{"b":"m","l":1,"x":-89,"y":1.5,"y2":6.8},{"b":"m","l":1,"x":-83,"y":1.5,"y2":6.8},{"b":"m","l":1,"x":-78,"y":1.4,"y2":7.4},{"b":"m","l":1,"x":-72,"y":1.4,"y2":7.6},{"b":"m","l":1,"x":-68,"y":1.3,"y2":8},{"b":"m","l":1,"x":-62,"y":1.3,"y2":9.6},{"b":"m","l":1,"x":-54,"y":1.2,"y2":10.6},{"b":"m","l":1,"x":-44,"y":1.1,"y2":11.2},{"b":"m","l":1,"x":-36,"y":1.1,"y2":11.6},{"b":"m","l":1,"x":-34,"y":1.1,"y2":13},{"b":"m","l":1,"x":-30,"y":1,"y2":15},{"b":"m","l":1,"x":-25,"y":1,"y2":16},{"b":"m","l":1,"x":-21,"y":1,"y2":18.2},{"b":"m","l":1,"x":-17,"y":1,"y2":17.5},{"b":"m","l":1,"x":-11,"y":1,"y2":18.6},{"b":"m","l":1,"x":-8.5,"y":1.1,"y2":17},{"b":"m","l":1,"x":-6,"y":1.3,"y2":13.5},{"b":"m","l":1,"x":-5,"y":1.5,"y2":12},
{"b":"s1","l":1,"x":-17,"y":20.2,"y2":20.3},{"b":"s1","l":1,"x":-16,"y":19.9,"y2":20.6},{"b":"s1","l":1,"x":-14.5,"y":20.2,"y2":20.3},
{"b":"h1","l":0,"x":-125.5,"y":2.9,"y2":3},{"b":"h1","l":0,"x":-124.5,"y":2.5,"y2":3.3},{"b":"h1","l":0,"x":-123.5,"y":2.9,"y2":3},
{"b":"h2","l":0,"x":-119.5,"y":3.5,"y2":3.6},{"b":"h2","l":0,"x":-118.5,"y":3.3,"y2":3.8},{"b":"h2","l":0,"x":-117.5,"y":3.5,"y2":3.6},
{"b":"h3","l":0,"x":-90,"y":6,"y2":6.1},{"b":"h3","l":0,"x":-88.5,"y":5.9,"y2":6.2},{"b":"h3","l":0,"x":-87,"y":6,"y2":6.1},
{"b":"p","l":2,"x":-118,"y":2.4,"y2":2.7},{"b":"p","l":2,"x":-110,"y":2.2,"y2":3.3},{"b":"p","l":2,"x":-100,"y":2,"y2":3.3},{"b":"p","l":2,"x":-97,"y":1.9,"y2":3.3},{"b":"p","l":2,"x":-90,"y":1.8,"y2":3.9},{"b":"p","l":2,"x":-81,"y":1.7,"y2":4.7},{"b":"p","l":2,"x":-74,"y":1.6,"y2":5.8},{"b":"p","l":2,"x":-61,"y":1.5,"y2":6.8},{"b":"p","l":2,"x":-50,"y":1.4,"y2":9},{"b":"p","l":2,"x":-39,"y":1.4,"y2":10},{"b":"p","l":2,"x":-29,"y":1.3,"y2":11.2},{"b":"p","l":2,"x":-28,"y":1.3,"y2":13.4},{"b":"p","l":2,"x":-21,"y":1.3,"y2":14},{"b":"p","l":2,"x":-13,"y":1.3,"y2":16.6},{"b":"p","l":2,"x":-8,"y":1.3,"y2":15.6},{"b":"p","l":2,"x":-6.5,"y":1.5,"y2":12.8},{"b":"p","l":2,"x":-6,"y":1.8,"y2":10},
{"b":"h4","l":0,"x":-14,"y":16.2,"y2":16.3},{"b":"h4","l":0,"x":-13,"y":16,"y2":16.5},{"b":"h4","l":0,"x":-12,"y":16.2,"y2":16.3},
{"b":"q","l":3,"x":-65.8,"y":2.6,"y2":3},{"b":"q","l":3,"x":-56.3,"y":2.3,"y2":4.25},{"b":"q","l":3,"x":-44.5,"y":2.1,"y2":5.85},{"b":"q","l":3,"x":-32.7,"y":1.9,"y2":7.4},{"b":"q","l":3,"x":-20.9,"y":1.9,"y2":9.6},{"b":"q","l":3,"x":-12.6,"y":1.9,"y2":11.5},{"b":"q","l":3,"x":-9,"y":2,"y2":11.2},{"b":"q","l":3,"x":-7.6,"y":2.3,"y2":9.6},
{"b":"d","l":4,"x":-60,"y":2.7,"y2":2.9},{"b":"d","l":4,"x":-56.3,"y":2.5,"y2":3.3},{"b":"d","l":4,"x":-47,"y":2,"y2":3.9},{"b":"d","l":4,"x":-44.5,"y":2,"y2":4.6},{"b":"d","l":4,"x":-32.7,"y":1.9,"y2":6.2},{"b":"d","l":4,"x":-25.6,"y":1.95,"y2":7.7},{"b":"d","l":4,"x":-18.5,"y":2,"y2":9},{"b":"d","l":4,"x":-12.6,"y":2.7,"y2":10},{"b":"d","l":4,"x":-9,"y":3.3,"y2":9.6},{"b":"d","l":4,"x":-7.6,"y":4,"y2":8.4},
{"b":"e","l":5,"x":-44.5,"y":3.4,"y2":3.6},{"b":"e","l":5,"x":-38.6,"y":2.9,"y2":4.4},{"b":"e","l":5,"x":-32.7,"y":2.35,"y2":5.35},{"b":"e","l":5,"x":-25.6,"y":2.5,"y2":6.8},{"b":"e","l":5,"x":-18.5,"y":2.7,"y2":8.4},{"b":"e","l":5,"x":-13.2,"y":3.3,"y2":9.2},{"b":"e","l":5,"x":-10.2,"y":3.6,"y2":9},{"b":"e","l":5,"x":-8.5,"y":4.5,"y2":7.1},
{"b":"f","l":6,"x":-29.2,"y":2.7,"y2":3.1},{"b":"f","l":6,"x":-28,"y":2.6,"y2":4.2},{"b":"f","l":6,"x":-23.2,"y":2.6,"y2":5.85},{"b":"f","l":6,"x":-18.5,"y":2.95,"y2":7.4},{"b":"f","l":6,"x":-13.2,"y":3.6,"y2":8.9},{"b":"f","l":6,"x":-10.2,"y":4,"y2":8.4},{"b":"f","l":6,"x":-9,"y":4.6,"y2":6.2},
{"b":"f2","l":6,"x":-42,"y":3.4,"y2":3.5},{"b":"f2","l":6,"x":-38.5,"y":3.1,"y2":3.8},{"b":"f2","l":6,"x":-35,"y":3.4,"y2":3.5},
{"b":"g","l":7,"x":-23.8,"y":3.8,"y2":3.9},{"b":"g","l":7,"x":-20.9,"y":3.6,"y2":5.85},{"b":"g","l":7,"x":-17.3,"y":3.8,"y2":6.6},{"b":"g","l":7,"x":-13.2,"y":4.4,"y2":7.6},{"b":"g","l":7,"x":-11.4,"y":4.5,"y2":6.2},{"b":"g","l":7,"x":-9.6,"y":4.6,"y2":5.35},
{"b":"r1","l":8,"x":-21.4,"y":4.4,"y2":4.6},{"b":"r1","l":8,"x":-19.7,"y":4,"y2":5.5},{"b":"r1","l":8,"x":-18,"y":4.4,"y2":4.7},
{"b":"r2","l":8,"x":-15,"y":5,"y2":5.1},{"b":"r2","l":8,"x":-12,"y":4.9,"y2":5.3},{"b":"r2","l":8,"x":-10.2,"y":5.1,"y2":5.3}
],
"E":[
{"b":"m","l":1,"x":-127.9,"y":1.9,"y2":3.9},{"b":"m","l":1,"x":-125.5,"y":1.8,"y2":2.9},{"b":"m","l":1,"x":-115.9,"y":1.7,"y2":3.6},{"b":"m","l":1,"x":-114.7,"y":1.6,"y2":5.2},{"b":"m","l":1,"x":-112.3,"y":1.6,"y2":4.7},{"b":"m","l":1,"x":-101.5,"y":1.6,"y2":4.9},{"b":"m","l":1,"x":-94.3,"y":1.4,"y2":5.8},{"b":"m","l":1,"x":-88.3,"y":1.3,"y2":6.15},{"b":"m","l":1,"x":-84.8,"y":1.2,"y2":6.8},{"b":"m","l":1,"x":-81.2,"y":1.1,"y2":9.3},{"b":"m","l":1,"x":-77.6,"y":1.1,"y2":9.5},{"b":"m","l":1,"x":-76.4,"y":1.1,"y2":6.5},{"b":"m","l":1,"x":-72.8,"y":1,"y2":7.4},{"b":"m","l":1,"x":-71.6,"y":1,"y2":8.7},{"b":"m","l":1,"x":-63.2,"y":0.95,"y2":9.3},{"b":"m","l":1,"x":-54.8,"y":0.95,"y2":10.3},{"b":"m","l":1,"x":-47.6,"y":1,"y2":11.4},{"b":"m","l":1,"x":-41.6,"y":1.1,"y2":12.6},{"b":"m","l":1,"x":-34.4,"y":1.2,"y2":13},{"b":"m","l":1,"x":-28,"y":1.3,"y2":13.3},{"b":"m","l":1,"x":-25.5,"y":1.3,"y2":15.3},{"b":"m","l":1,"x":-23.6,"y":1.3,"y2":16.4},{"b":"m","l":1,"x":-20.6,"y":1.3,"y2":15.5},{"b":"m","l":1,"x":-15.2,"y":1.4,"y2":14.85},{"b":"m","l":1,"x":-12.8,"y":1.5,"y2":13.7},{"b":"m","l":1,"x":-9.8,"y":1.6,"y2":12.3},{"b":"m","l":1,"x":-6.8,"y":1.8,"y2":10.1},{"b":"m","l":1,"x":-6.5,"y":2,"y2":9},
{"b":"s1","l":1,"x":-138,"y":4.2,"y2":4.3},{"b":"s1","l":1,"x":-136.3,"y":3.75,"y2":4.75},{"b":"s1","l":1,"x":-134.6,"y":4.2,"y2":4.3},
{"b":"s2","l":1,"x":-48.7,"y":13,"y2":13.2},{"b":"s2","l":1,"x":-47,"y":12.6,"y2":13.6},{"b":"s2","l":1,"x":-45.3,"y":13,"y2":13.2},
{"b":"s3","l":1,"x":-34.4,"y":14.7,"y2":14.8},{"b":"s3","l":1,"x":-32.6,"y":14.46,"y2":15.06},{"b":"s3","l":1,"x":-30.8,"y":14.7,"y2":14.8},
{"b":"s4","l":1,"x":-59.6,"y":12.1,"y2":12.3},{"b":"s4","l":1,"x":-59,"y":11.5,"y2":12.9},{"b":"s4","l":1,"x":-58.4,"y":12.1,"y2":12.3},
{"b":"s5","l":1,"x":-80.5,"y":10.6,"y2":10.8},{"b":"s5","l":1,"x":-77.5,"y":10.3,"y2":11.1},{"b":"s5","l":1,"x":-74.5,"y":10.6,"y2":10.8},
{"b":"s6","l":1,"x":-65.5,"y":10.7,"y2":10.9},{"b":"s6","l":1,"x":-63,"y":10.5,"y2":11.1},{"b":"s6","l":1,"x":-60.5,"y":10.7,"y2":10.9},
{"b":"s7","l":1,"x":-54,"y":11.45,"y2":11.55},{"b":"s7","l":1,"x":-52.4,"y":11.1,"y2":11.9},{"b":"s7","l":1,"x":-50.8,"y":11.45,"y2":11.55},
{"b":"s8","l":1,"x":-103.5,"y":6.6,"y2":6.8},{"b":"s8","l":1,"x":-100.3,"y":6.9,"y2":7.9},{"b":"s8","l":1,"x":-97.5,"y":7.3,"y2":7.5},
{"b":"s9","l":1,"x":-92,"y":9.2,"y2":9.3},{"b":"s9","l":1,"x":-90,"y":8.9,"y2":9.7},{"b":"s9","l":1,"x":-88,"y":9.2,"y2":9.3},
{"b":"h1","l":0,"x":-39,"y":11.7,"y2":11.8},{"b":"h1","l":0,"x":-37.5,"y":11.2,"y2":12},{"b":"h1","l":0,"x":-36,"y":11.7,"y2":11.8},
{"b":"h2","l":0,"x":-33,"y":12.2,"y2":12.3},{"b":"h2","l":0,"x":-31.5,"y":11.9,"y2":12.5},{"b":"h2","l":0,"x":-30,"y":12.2,"y2":12.3},
{"b":"h3","l":0,"x":-86,"y":5,"y2":5.1},{"b":"h3","l":0,"x":-84,"y":5,"y2":6},{"b":"h3","l":0,"x":-82.5,"y":5.3,"y2":5.4},
{"b":"p","l":2,"x":-96.7,"y":2.5,"y2":2.7},{"b":"p","l":2,"x":-95.5,"y":1.7,"y2":3.6},{"b":"p","l":2,"x":-87.1,"y":1.5,"y2":4.6},{"b":"p","l":2,"x":-77.6,"y":1.25,"y2":4.9},{"b":"p","l":2,"x":-68,"y":1.25,"y2":5.8},{"b":"p","l":2,"x":-65.6,"y":1.25,"y2":7.1},{"b":"p","l":2,"x":-56,"y":1.25,"y2":8},{"b":"p","l":2,"x":-44,"y":1.3,"y2":10},{"b":"p","l":2,"x":-34.4,"y":1.5,"y2":11.2},{"b":"p","l":2,"x":-26,"y":1.56,"y2":12.2},{"b":"p","l":2,"x":-17.6,"y":1.7,"y2":11.5},{"b":"p","l":2,"x":-9.2,"y":1.9,"y2":10},{"b":"p","l":2,"x":-8,"y":2.5,"y2":8.4},
{"b":"q","l":3,"x":-75.2,"y":2.7,"y2":3},{"b":"q","l":3,"x":-68,"y":2.6,"y2":3.9},{"b":"q","l":3,"x":-56,"y":2.35,"y2":4.57},{"b":"q","l":3,"x":-48.8,"y":2.3,"y2":5.2},{"b":"q","l":3,"x":-44,"y":2.2,"y2":7.1},{"b":"q","l":3,"x":-35.6,"y":2.04,"y2":8.4},{"b":"q","l":3,"x":-24.8,"y":1.9,"y2":9.3},{"b":"q","l":3,"x":-18.8,"y":2,"y2":9},{"b":"q","l":3,"x":-14,"y":2.35,"y2":8.7},{"b":"q","l":3,"x":-11.6,"y":4.25,"y2":6.8},
{"b":"d1","l":4,"x":-69.2,"y":3.5,"y2":3.7},{"b":"d1","l":4,"x":-68,"y":3.3,"y2":3.9},{"b":"d1","l":4,"x":-66.8,"y":3.5,"y2":3.7},
{"b":"d2","l":4,"x":-57.2,"y":3.5,"y2":3.7},{"b":"d2","l":4,"x":-56,"y":3.3,"y2":3.9},{"b":"d2","l":4,"x":-54.8,"y":3.5,"y2":3.7},
{"b":"d3","l":4,"x":-75.2,"y":3.4,"y2":3.5},{"b":"d3","l":4,"x":-74,"y":3.15,"y2":3.75},{"b":"d3","l":4,"x":-72.8,"y":3.4,"y2":3.5},
{"b":"d","l":4,"x":-50,"y":4.4,"y2":4.6},{"b":"d","l":4,"x":-44,"y":3.6,"y2":6.8},{"b":"d","l":4,"x":-35.6,"y":2.35,"y2":8.2},{"b":"d","l":4,"x":-24.8,"y":2,"y2":8.7},{"b":"d","l":4,"x":-18.8,"y":2.35,"y2":8.7},{"b":"d","l":4,"x":-14,"y":2.66,"y2":7.1},{"b":"d","l":4,"x":-11.6,"y":3.6,"y2":4.25},
{"b":"e","l":5,"x":-45.4,"y":4,"y2":4.3},{"b":"e","l":5,"x":-41.6,"y":3.3,"y2":6.15},{"b":"e","l":5,"x":-35.6,"y":2.67,"y2":7.57},{"b":"e","l":5,"x":-29.6,"y":2.3,"y2":7.57},{"b":"e","l":5,"x":-22.4,"y":2.4,"y2":8.2},{"b":"e","l":5,"x":-18.8,"y":2.5,"y2":8.4},{"b":"e","l":5,"x":-14.6,"y":2.8,"y2":6.46},{"b":"e","l":5,"x":-13.4,"y":3.6,"y2":4.25},
{"b":"f","l":6,"x":-45.2,"y":4,"y2":4.2},{"b":"f","l":6,"x":-39.2,"y":3,"y2":5.2},{"b":"f","l":6,"x":-35.6,"y":2.83,"y2":7.4},{"b":"f","l":6,"x":-29.6,"y":2.5,"y2":7.25},{"b":"f","l":6,"x":-22.4,"y":2.67,"y2":7.7},{"b":"f","l":6,"x":-19.4,"y":2.83,"y2":8},{"b":"f","l":6,"x":-15.8,"y":3,"y2":6.15},{"b":"f","l":6,"x":-14.6,"y":4.2,"y2":4.3},
{"b":"h4","l":3,"x":-41.6,"y":3.5,"y2":3.7},{"b":"h4","l":3,"x":-40,"y":3.35,"y2":3.85},{"b":"h4","l":3,"x":-38,"y":3.5,"y2":3.7},
{"b":"g","l":7,"x":-42.8,"y":4.1,"y2":4.2},{"b":"g","l":7,"x":-36.2,"y":3.6,"y2":5.2},{"b":"g","l":7,"x":-34.4,"y":3.3,"y2":6.8},{"b":"g","l":7,"x":-29,"y":2.83,"y2":6.8},{"b":"g","l":7,"x":-24.8,"y":2.67,"y2":6.15},{"b":"g","l":7,"x":-17.6,"y":3,"y2":5.83},{"b":"g","l":7,"x":-15.2,"y":3.14,"y2":4.25},
{"b":"r","l":8,"x":-36.2,"y":4.2,"y2":4.3},{"b":"r","l":8,"x":-32,"y":3.77,"y2":5.2},{"b":"r","l":8,"x":-29,"y":3.3,"y2":5.83},{"b":"r","l":8,"x":-23.6,"y":2.92,"y2":5.5},{"b":"r","l":8,"x":-17.6,"y":3.24,"y2":5.5},{"b":"r","l":8,"x":-15.8,"y":3.6,"y2":4.25},
{"b":"o","l":9,"x":-32.6,"y":4.3,"y2":4.4},{"b":"o","l":9,"x":-29,"y":3.77,"y2":5.5},{"b":"o","l":9,"x":-22.4,"y":3.14,"y2":5.36},{"b":"o","l":9,"x":-17.6,"y":3.46,"y2":5.2},{"b":"o","l":9,"x":-16.6,"y":3.9,"y2":4.2},
{"b":"y","l":10,"x":-31.4,"y":4.3,"y2":4.4},{"b":"y","l":10,"x":-28.4,"y":3.93,"y2":5.36},{"b":"y","l":10,"x":-23.6,"y":3.46,"y2":5.04},{"b":"y","l":10,"x":-18.2,"y":3.68,"y2":5.04},{"b":"y","l":10,"x":-17.6,"y":4,"y2":4.1},
{"b":"z","l":11,"x":-29.6,"y":4.4,"y2":4.5},{"b":"z","l":11,"x":-27.2,"y":4.1,"y2":4.9},{"b":"z","l":11,"x":-23.6,"y":4,"y2":4.6},{"b":"z","l":11,"x":-22,"y":4.3,"y2":4.4}
],
"legend":[{"value":0,"label":"0.0","k":"a"},{"value":0.2,"label":"0.2","k":"b"},{"value":0.4,"label":"0.4","k":"c"},{"value":0.6,"label":"0.6","k":"d"},{"value":0.8,"label":"0.8","k":"e"},{"value":1,"label":"1.0","k":"f"},{"value":1.2,"label":"1.2","k":"g"}]
},
"concat":[
{"width":415,"height":401,"layer":[
{"data":{"name":"A"},"mark":{"type":"area","interpolate":"monotone","clip":true,"strokeWidth":3,"strokeOpacity":0.45},"encoding":{"x":{"field":"x","type":"quantitative","scale":{"domain":[-148.4,-1.2],"nice":false,"zero":false},"axis":null},"y":{"field":"y","type":"quantitative","scale":{"domain":[0.4,39.5],"nice":false,"zero":false},"axis":{"values":[5,10,15,20,25,30,35],"title":null,"labelPadding":7}},"y2":{"field":"y2"},"detail":{"field":"b"},"stroke":{"field":"l","type":"ordinal","legend":null,"scale":{"domain":[0,1,2,3,4,5,6,7,8,9,10,11,12],"range":["#3c3c3e","#5a595f","#6a5c86","#5d4a8e","#47298a","#c9c3d4","#ece9ea","#ee9a7c","#e4552e","#f6a816","#fde830","#fffbb0","#64548a"]}},"color":{"field":"l","type":"ordinal","legend":null,"scale":{"domain":[0,1,2,3,4,5,6,7,8,9,10,11,12],"range":["#3c3c3e","#5a595f","#6a5c86","#5d4a8e","#47298a","#c9c3d4","#ece9ea","#ee9a7c","#e4552e","#f6a816","#fde830","#fffbb0","#64548a"]}}}},
{"data":{"values":[{"t":"A"}]},"mark":{"type":"text","fontSize":25,"color":"#eeeeee","align":"center","baseline":"middle"},"encoding":{"text":{"field":"t"},"x":{"datum":-140.6,"type":"quantitative","axis":null},"y":{"datum":36.9,"type":"quantitative"}}},
{"data":{"values":[{"t":"pn6"}]},"mark":{"type":"text","fontSize":19,"color":"#dddddd","align":"right","baseline":"middle"},"encoding":{"text":{"field":"t"},"x":{"datum":-7.6,"type":"quantitative","axis":null},"y":{"datum":36.9,"type":"quantitative"}}},
{"data":{"values":[{"t":"Y Data"}]},"mark":{"type":"text","fontSize":13,"color":"#111111","align":"center","baseline":"middle","angle":270},"encoding":{"text":{"field":"t"},"x":{"datum":-14.7,"type":"quantitative","axis":null},"y":{"datum":20,"type":"quantitative"}}}
]},
{"width":408,"height":401,"layer":[
{"data":{"name":"B"},"mark":{"type":"area","interpolate":"monotone","clip":true,"strokeWidth":3,"strokeOpacity":0.45},"encoding":{"x":{"field":"x","type":"quantitative","scale":{"domain":[-148.4,-1.6],"nice":false,"zero":false},"axis":null},"y":{"field":"y","type":"quantitative","scale":{"domain":[0.4,39.5],"nice":false,"zero":false},"axis":null},"y2":{"field":"y2"},"detail":{"field":"b"},"stroke":{"field":"l","type":"ordinal","legend":null,"scale":{"domain":[0,1,2,3,4,5,6,7,8,9,10,11],"range":["#3c3c3e","#5a595f","#6a5c86","#5d4a8e","#47298a","#c9c3d4","#ece9ea","#ee9a7c","#e4552e","#f6a816","#fde830","#fffbb0"]}},"color":{"field":"l","type":"ordinal","legend":null,"scale":{"domain":[0,1,2,3,4,5,6,7,8,9,10,11],"range":["#3c3c3e","#5a595f","#6a5c86","#5d4a8e","#47298a","#c9c3d4","#ece9ea","#ee9a7c","#e4552e","#f6a816","#fde830","#fffbb0"]}}}},
{"data":{"values":[{"t":"B"}]},"mark":{"type":"text","fontSize":25,"color":"#eeeeee","align":"center","baseline":"middle"},"encoding":{"text":{"field":"t"},"x":{"datum":-141.2,"type":"quantitative","axis":null},"y":{"datum":36.9,"type":"quantitative","axis":null}}},
{"data":{"values":[{"t":"pn11"}]},"mark":{"type":"text","fontSize":19,"color":"#dddddd","align":"right","baseline":"middle"},"encoding":{"text":{"field":"t"},"x":{"datum":-7,"type":"quantitative","axis":null},"y":{"datum":36.9,"type":"quantitative","axis":null}}}
]},
{"width":408,"height":403,"layer":[
{"data":{"name":"C"},"mark":{"type":"area","interpolate":"monotone","clip":true,"strokeWidth":3,"strokeOpacity":0.45},"encoding":{"x":{"field":"x","type":"quantitative","scale":{"domain":[-148.5,-1.5],"nice":false,"zero":false},"axis":{"values":[-125,-100,-75,-50,-25],"title":null,"labelPadding":9,"labelExpr":"'-' + abs(datum.value)"}},"y":{"field":"y","type":"quantitative","scale":{"domain":[0.31,39.44],"nice":false,"zero":false},"axis":null},"y2":{"field":"y2"},"detail":{"field":"b"},"stroke":{"field":"l","type":"ordinal","legend":null,"scale":{"domain":[0,1,2,3,4,5,6,7,8,9,10,11],"range":["#3c3c3e","#5a595f","#6a5c86","#5d4a8e","#47298a","#c9c3d4","#ece9ea","#ee9a7c","#e4552e","#f6a816","#fde830","#fffbb0"]}},"color":{"field":"l","type":"ordinal","legend":null,"scale":{"domain":[0,1,2,3,4,5,6,7,8,9,10,11],"range":["#3c3c3e","#5a595f","#6a5c86","#5d4a8e","#47298a","#c9c3d4","#ece9ea","#ee9a7c","#e4552e","#f6a816","#fde830","#fffbb0"]}}}},
{"data":{"values":[{"t":"C"}]},"mark":{"type":"text","fontSize":25,"color":"#eeeeee","align":"center","baseline":"middle"},"encoding":{"text":{"field":"t"},"x":{"datum":-140,"type":"quantitative"},"y":{"datum":36.9,"type":"quantitative","axis":null}}},
{"data":{"values":[{"t":"pn14"}]},"mark":{"type":"text","fontSize":19,"color":"#dddddd","align":"right","baseline":"middle"},"encoding":{"text":{"field":"t"},"x":{"datum":-9.4,"type":"quantitative"},"y":{"datum":36.9,"type":"quantitative","axis":null}}}
]},
{"width":415,"height":414,"layer":[
{"data":{"name":"D"},"mark":{"type":"area","interpolate":"monotone","clip":true,"strokeWidth":3,"strokeOpacity":0.45},"encoding":{"x":{"field":"x","type":"quantitative","scale":{"domain":[-148.4,-1.2],"nice":false,"zero":false},"axis":{"values":[-125,-100,-75,-50,-25],"title":"peak current (pA)","titleX":426,"titleY":54,"labelPadding":9,"labelExpr":"'-' + abs(datum.value)"}},"y":{"field":"y","type":"quantitative","scale":{"domain":[0.35,39.65],"nice":false,"zero":false},"axis":{"values":[5,10,15,20,25,30,35],"title":"τdecay (ms)","titleX":-77,"titleY":8,"labelPadding":7}},"y2":{"field":"y2"},"detail":{"field":"b"},"stroke":{"field":"l","type":"ordinal","legend":null,"scale":{"domain":[0,1,2,3,4,5,6,7,8,9,10,11],"range":["#3c3c3e","#5a595f","#6a5c86","#5d4a8e","#47298a","#c9c3d4","#ece9ea","#ee9a7c","#e4552e","#f6a816","#fde830","#fffbb0"]}},"color":{"field":"l","type":"ordinal","legend":null,"scale":{"domain":[0,1,2,3,4,5,6,7,8,9,10,11],"range":["#3c3c3e","#5a595f","#6a5c86","#5d4a8e","#47298a","#c9c3d4","#ece9ea","#ee9a7c","#e4552e","#f6a816","#fde830","#fffbb0"]}}}},
{"data":{"values":[{"t":"D"}]},"mark":{"type":"text","fontSize":25,"color":"#eeeeee","align":"center","baseline":"middle"},"encoding":{"text":{"field":"t"},"x":{"datum":-137.8,"type":"quantitative"},"y":{"datum":36.9,"type":"quantitative"}}},
{"data":{"values":[{"t":"pn21"}]},"mark":{"type":"text","fontSize":19,"color":"#dddddd","align":"right","baseline":"middle"},"encoding":{"text":{"field":"t"},"x":{"datum":-7.6,"type":"quantitative"},"y":{"datum":37.1,"type":"quantitative"}}}
]},
{"width":408,"height":414,"layer":[
{"data":{"name":"E"},"mark":{"type":"area","interpolate":"monotone","clip":true,"strokeWidth":3,"strokeOpacity":0.45},"encoding":{"x":{"field":"x","type":"quantitative","scale":{"domain":[-148.4,-1.6],"nice":false,"zero":false},"axis":{"values":[-125,-100,-75,-50,-25],"title":null,"labelPadding":9,"labelExpr":"'-' + abs(datum.value)"}},"y":{"field":"y","type":"quantitative","scale":{"domain":[0.35,39.65],"nice":false,"zero":false},"axis":null},"y2":{"field":"y2"},"detail":{"field":"b"},"stroke":{"field":"l","type":"ordinal","legend":null,"scale":{"domain":[0,1,2,3,4,5,6,7,8,9,10,11],"range":["#3c3c3e","#5a595f","#6a5c86","#5d4a8e","#47298a","#c9c3d4","#ece9ea","#ee9a7c","#e4552e","#f6a816","#fde830","#fffbb0"]}},"color":{"field":"l","type":"ordinal","legend":null,"scale":{"domain":[0,1,2,3,4,5,6,7,8,9,10,11],"range":["#3c3c3e","#5a595f","#6a5c86","#5d4a8e","#47298a","#c9c3d4","#ece9ea","#ee9a7c","#e4552e","#f6a816","#fde830","#fffbb0"]}}}},
{"data":{"values":[{"t":"E"}]},"mark":{"type":"text","fontSize":25,"color":"#eeeeee","align":"center","baseline":"middle"},"encoding":{"text":{"field":"t"},"x":{"datum":-139.8,"type":"quantitative"},"y":{"datum":36.9,"type":"quantitative","axis":null}}},
{"data":{"values":[{"t":"pn35"}]},"mark":{"type":"text","fontSize":19,"color":"#dddddd","align":"right","baseline":"middle"},"encoding":{"text":{"field":"t"},"x":{"datum":-4.9,"type":"quantitative"},"y":{"datum":37.1,"type":"quantitative","axis":null}}}
]},
{"width":408,"height":414,"view":{"fill":null,"stroke":null},"layer":[
{"data":{"values":[{"k":"frame"}]},"mark":{"type":"rect","fill":"white","stroke":"#a0a0a0","strokeWidth":1.2},"encoding":{"x":{"datum":168,"type":"quantitative","axis":null,"scale":{"domain":[0,408],"nice":false,"zero":false}},"x2":{"datum":290},"y":{"datum":-0.222,"type":"quantitative","axis":null,"scale":{"domain":[-0.952,2.333],"reverse":true,"nice":false,"zero":false}},"y2":{"datum":1.429}}},
{"data":{"name":"legend"},"mark":{"type":"rule","strokeWidth":11,"strokeCap":"butt"},"encoding":{"x":{"datum":186,"type":"quantitative","axis":null},"x2":{"datum":229},"y":{"field":"value","type":"quantitative","axis":null},"color":{"field":"k","type":"nominal","legend":null,"scale":{"domain":["a","b","c","d","e","f","g"],"range":["#000000","#6a5a85","#47287f","#c0b9cc","#e8754e","#f5c400","#fff6c0"]}}}},
{"data":{"name":"legend"},"mark":{"type":"text","fontSize":19,"color":"#2e2e2e","align":"left","baseline":"middle"},"encoding":{"text":{"field":"label"},"x":{"datum":239,"type":"quantitative","axis":null},"y":{"field":"value","type":"quantitative","axis":null}}},
{"data":{"values":[{"t":"% of events"}]},"mark":{"type":"text","fontSize":19,"color":"#2e2e2e","align":"center","baseline":"middle","angle":270},"encoding":{"text":{"field":"t"},"x":{"datum":140,"type":"quantitative","axis":null},"y":{"datum":0.611,"type":"quantitative","axis":null}}}
]}
]}
